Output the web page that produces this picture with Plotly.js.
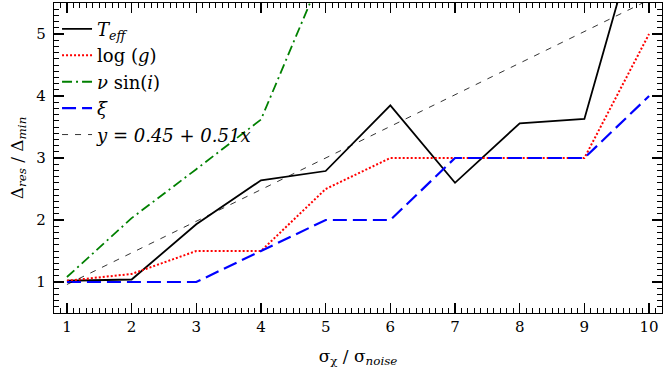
<!DOCTYPE html>
<html>
<head>
<meta charset="utf-8">
<script src="https://cdn.plot.ly/plotly-3.0.1.min.js"></script>
<style>
  html, body { margin: 0; padding: 0; background: #fff; }
  #chart { width: 667px; height: 380px; }
</style>
</head>
<body>
<div id="chart"></div>
<script>
// sigma ratio on the x axis
const xVals = [1, 2, 3, 4, 5, 6, 7, 8, 9, 10];

// resolution ratios
const teff = [1.02, 1.04, 1.93, 2.64, 2.79, 3.85, 2.6, 3.56, 3.63, 7.3];
const logg = [1.02, 1.13, 1.5, 1.5, 2.5, 3.0, 3.0, 3.0, 3.0, 5.0];
const vsini = [1.08, 2.03, 2.82, 3.62, 6.1, null, null, null, null, null];
const xi = [1.0, 1.0, 1.0, 1.5, 2.0, 2.0, 3.0, 3.0, 3.0, 4.0];

// linear fit y = a + b x
const fitA = 0.45;
const fitB = 0.51;
const fitX = [1, 10];

const serif = "DejaVu Serif";

const traces = [
  {
    x: xVals, y: teff, type: "scatter", mode: "lines",
    name: "<i>T</i><sub><i>eff</i></sub>",
    line: { color: "black", width: 1.8 },
  },
  {
    x: xVals, y: logg, type: "scatter", mode: "lines",
    name: "log (<i>g</i>)",
    line: { color: "red", width: 2, dash: "2px,2px" },
  },
  {
    x: xVals, y: vsini, type: "scatter", mode: "lines",
    name: "<i>ν</i> sin(<i>i</i>)",
    line: { color: "green", width: 1.8, dash: "10px,4px,2px,4px" },
  },
  {
    x: xVals, y: xi, type: "scatter", mode: "lines",
    name: "<i>ξ</i>",
    line: { color: "blue", width: 2.2, dash: "14px,6px" },
  },
  {
    x: fitX, y: fitX.map((v) => fitA + fitB * v), type: "scatter", mode: "lines",
    name: "<i>y = 0.45 + 0.51x</i>",
    line: { color: "black", width: 0.8, dash: "6px,7px" },
  },
];

const axisCommon = {
  showgrid: false,
  zeroline: false,
  showline: true,
  linecolor: "black",
  linewidth: 1.2,
  mirror: "allticks",
  ticks: "inside",
  ticklen: 10,
  tickwidth: 1.2,
  tickcolor: "black",
  tickfont: { family: serif, size: 15, color: "black" },
};

const layout = {
  width: 667,
  height: 380,
  margin: { l: 54, r: 5, t: 3, b: 67 },
  paper_bgcolor: "white",
  plot_bgcolor: "white",
  showlegend: true,
  legend: {
    x: 0.005, y: 0.975, xanchor: "left", yanchor: "top",
    bgcolor: "rgba(0,0,0,0)",
    font: { family: serif, size: 18, color: "black" },
    tracegroupgap: 0,
  },
  xaxis: Object.assign({}, axisCommon, {
    range: [0.8, 10.2],
    tick0: 1, dtick: 1,
    minor: { dtick: 0.1, ticklen: 5, tickwidth: 1, tickcolor: "black", ticks: "inside" },
    title: { text: "σ<sub>χ</sub> / σ<sub><i>noise</i></sub>", font: { family: serif, size: 17, color: "black" }, standoff: 14 },
  }),
  yaxis: Object.assign({}, axisCommon, {
    range: [0.5, 5.5],
    tick0: 1, dtick: 1,
    ticklabelstandoff: 4,
    minor: { dtick: 0.1, ticklen: 5, tickwidth: 1, tickcolor: "black", ticks: "inside" },
    title: { text: "Δ<sub><i>res</i></sub> / Δ<sub><i>min</i></sub>", font: { family: serif, size: 17, color: "black" }, standoff: 8 },
  }),
};

Plotly.newPlot("chart", traces, layout, { displayModeBar: false, staticPlot: true });
</script>
</body>
</html>
